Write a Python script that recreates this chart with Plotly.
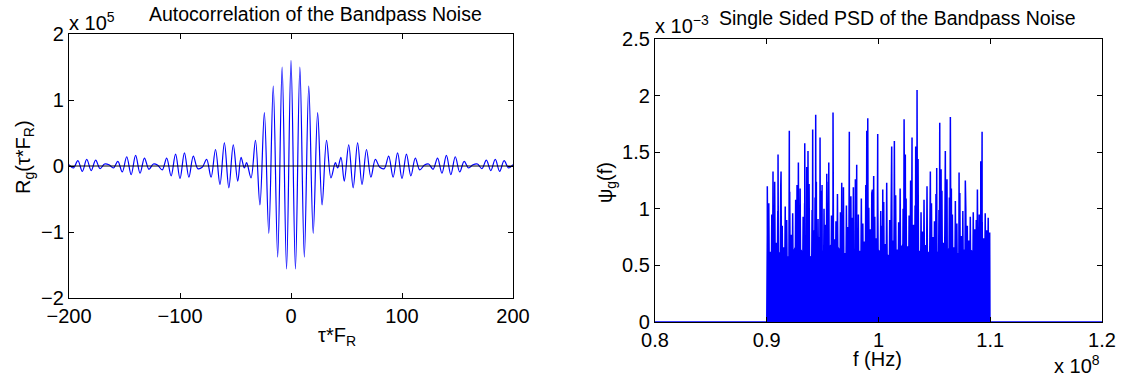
import numpy as np
import plotly.graph_objects as go

# ---------------- data ----------------
# Autocorrelation extrema, tau*F_R  and  R_g (units of 1e5)
tau = [-200, -196, -192, -188, -184, -180, -176, -172, -168, -164, -160, -156, -152,
       -148, -144, -140, -136, -132, -128, -124, -120, -116, -112, -108, -104, -100,
       -96, -92, -88, -84, -80, -76, -72, -68, -64, -60, -56, -52, -48, -45, -42, -40,
       -36, -32, -28, -24, -20, -16, -12, -8, -4,
       0, 4, 8, 12, 16, 20, 24, 28, 32, 36, 40, 42, 45, 48, 52, 56, 60, 64, 68, 72, 76,
       80, 84, 88, 92, 96, 100, 104, 108, 112, 116, 120, 124, 128, 132, 136, 140, 144,
       148, 152, 156, 160, 164, 168, 172, 176, 180, 184, 188, 192, 196, 200]
r_g = [0.02, -0.03, 0.08, -0.08, 0.10, -0.07, 0.09, -0.04, 0.03, 0.02, -0.03, 0.07, -0.09,
       0.14, -0.13, 0.16, -0.11, 0.12, -0.05, 0.03, 0.01, -0.06, 0.12, -0.15, 0.18, -0.19,
       0.20, -0.17, 0.15, -0.04, -0.02, 0.10, -0.17, 0.25, -0.28, 0.35, -0.33, 0.32, -0.23,
       0.13, -0.03, 0.05, -0.18, 0.39, -0.59, 0.81, -1.02, 1.21, -1.38, 1.50, -1.56,
       1.60, -1.56, 1.50, -1.38, 1.21, -1.02, 0.81, -0.59, 0.39, -0.18, 0.05, -0.03, 0.13,
       -0.23, 0.32, -0.33, 0.35, -0.28, 0.25, -0.17, 0.10, -0.02, -0.04, 0.15, -0.17, 0.20,
       -0.19, 0.18, -0.15, 0.12, -0.06, 0.01, 0.03, -0.05, 0.12, -0.11, 0.16, -0.13, 0.14,
       -0.09, 0.07, -0.03, 0.02, 0.03, -0.04, 0.09, -0.07, 0.10, -0.08, 0.08, -0.03, 0.02]

# PSD: tall spikes (f in 1e8 Hz, psi in 1e-3)
spike_f = [0.9005, 0.9056, 0.9071, 0.9101, 0.9128, 0.9202, 0.9271, 0.9283, 0.9340, 0.9358,
           0.9369, 0.9411, 0.9438, 0.9444, 0.9477, 0.9495, 0.9537, 0.9555, 0.9593, 0.9671,
           0.9739, 0.9775, 0.9805, 0.9895, 0.9904, 0.9945, 0.9957, 0.9993, 1.0038, 1.0118,
           1.0142, 1.0229, 1.0240, 1.0300, 1.0333, 1.0345, 1.0354, 1.0464, 1.0521, 1.0548,
           1.0560, 1.0598, 1.0613, 1.0643, 1.0652, 1.0721, 1.0777, 1.0885, 1.0915, 1.0927]
spike_h = [1.20, 1.33, 1.24, 1.48, 1.33, 1.69, 1.21, 1.41, 1.58, 1.37,
           1.51, 1.70, 1.83, 1.24, 1.63, 1.21, 1.31, 1.41, 1.85, 1.23,
           1.68, 1.19, 1.39, 1.69, 1.80, 1.17, 1.29, 1.66, 1.17, 1.55,
           1.60, 1.79, 1.48, 1.63, 1.55, 2.05, 1.44, 1.33, 1.36, 1.76,
           1.35, 1.51, 1.26, 1.81, 1.18, 1.32, 1.25, 1.17, 1.42, 1.68]
# PSD: the dense band of lower lines, evenly spaced across the pass band
band_h = [0.78, 1.05, 0.62, 0.95, 0.80, 1.12, 0.70, 0.98, 0.55, 1.20, 0.85, 0.66, 1.02, 0.90, 0.58, 1.15, 0.77, 0.96, 0.64, 1.08,
          0.88, 0.72, 1.18, 0.60, 0.93, 1.05, 0.69, 0.83, 1.22, 0.57, 0.99, 0.81, 1.10, 0.67, 0.91, 0.75, 1.16, 0.62, 1.00, 0.86,
          0.70, 1.24, 0.59, 0.94, 1.07, 0.73, 0.89, 1.13, 0.65, 0.97, 0.79, 1.19, 0.61, 1.03, 0.84, 0.68, 1.11, 0.92, 0.56, 1.26,
          0.76, 0.95, 0.63, 1.09, 0.87, 0.71, 1.21, 0.58, 1.01, 0.82, 1.14, 0.66, 0.93, 0.74, 1.17, 0.60, 0.98, 0.85, 1.06, 0.69,
          1.23, 0.57, 0.90, 1.04, 0.72, 0.96, 1.12, 0.64, 0.88, 1.18, 0.59, 1.00, 0.78, 1.09, 0.67, 0.94, 1.25, 0.61, 0.86, 1.03,
          0.73, 1.15, 0.63, 0.97, 0.80, 1.08, 0.68, 1.20, 0.55, 0.92, 1.05, 0.75, 0.89, 1.13, 0.62, 0.99, 0.83, 1.16, 0.70, 0.91,
          1.02, 0.58, 1.10, 0.79, 0.95, 0.66, 1.07, 0.87, 0.61, 1.14, 0.76, 0.98, 0.64, 1.01, 0.85, 0.72, 0.93, 0.60, 0.97, 0.82,
          0.90, 0.68, 0.95, 0.78, 0.88, 0.74, 0.96, 0.81, 0.92, 0.79]
# PSD: height of the solid blue floor of the band, evenly spaced across the pass band
floor_h = [0.58, 0.64, 0.55, 0.68, 0.60, 0.56, 0.66, 0.70, 0.59, 0.63, 0.57, 0.67,
           0.61, 0.58, 0.69, 0.62, 0.56, 0.65, 0.60, 0.67, 0.57, 0.64, 0.60, 0.62]
band_lo, band_hi = 0.9005, 1.0995
f_lo, f_hi = 0.8, 1.2

x_ticks_left = [-200, -100, 0, 100, 200]
y_ticks_left = [-2, -1, 0, 1, 2]
x_ticks_right = [0.8, 0.9, 1.0, 1.1, 1.2]
x_ticktext_right = ["0.8", "0.9", "1", "1.1", "1.2"]
y_ticks_right = [0, 0.5, 1.0, 1.5, 2.0, 2.5]
y_ticktext_right = ["0", "0.5", "1", "1.5", "2", "2.5"]

# ---------------- build PSD line (each line goes up to its value and back down) --------------
band_f = np.linspace(band_lo, band_hi, len(band_h))
tops = sorted(list(zip(band_f, band_h)) + list(zip(spike_f, spike_h)))
psd_x = [f_lo, 0.9]
psd_y = [0.0, 0.0]
for i, (f, h) in enumerate(tops):
    psd_x.append(f)
    psd_y.append(h)
    nxt = tops[i + 1][0] if i + 1 < len(tops) else 1.1
    psd_x.append((f + nxt) / 2)
    psd_y.append(0.0)
psd_x += [1.1, f_hi]
psd_y += [0.0, 0.0]

floor_f = list(np.linspace(band_lo, band_hi, len(floor_h)))
floor_x = [band_lo] + floor_f + [band_hi]
floor_y = [0.0] + floor_h + [0.0]

# ---------------- figure ----------------
W, H = 1125, 377
FONT = "Liberation Sans, Arial, Helvetica, sans-serif"
BLUE = "#0000ff"

fig = go.Figure()
fig.add_trace(go.Scatter(x=tau, y=r_g, mode="lines",
                         line=dict(color=BLUE, width=1.2, shape="spline", smoothing=1.0),
                         xaxis="x", yaxis="y", hoverinfo="skip", showlegend=False))
fig.add_trace(go.Scatter(x=[x_ticks_left[0], x_ticks_left[-1]], y=[0, 0], mode="lines",
                         line=dict(color="black", width=1),
                         xaxis="x", yaxis="y", hoverinfo="skip", showlegend=False))
fig.add_trace(go.Scatter(x=floor_x, y=floor_y, mode="lines", fill="toself",
                         fillcolor=BLUE, line=dict(color=BLUE, width=0),
                         xaxis="x2", yaxis="y2", hoverinfo="skip", showlegend=False))
fig.add_trace(go.Scatter(x=psd_x, y=psd_y, mode="lines",
                         line=dict(color=BLUE, width=1.5),
                         xaxis="x2", yaxis="y2", hoverinfo="skip", showlegend=False))


def px(xp):
    return xp / W


def py(yp):
    return 1 - yp / H


axis_common = dict(showline=True, linecolor="black", linewidth=1.3, mirror="ticks",
                   ticks="inside", ticklen=5, tickwidth=1, tickcolor="black",
                   showgrid=False, zeroline=False, automargin=False,
                   tickfont=dict(family=FONT, size=20, color="black"))

fig.update_layout(
    template="none",
    width=W, height=H, autosize=False,
    margin=dict(l=0, r=0, t=0, b=0, pad=0),
    paper_bgcolor="white", plot_bgcolor="white",
    showlegend=False,
    xaxis=dict(domain=[px(69), px(513)], range=[-200, 200], tickvals=x_ticks_left,
               anchor="y", **axis_common),
    yaxis=dict(domain=[py(298), py(34)], range=[-2, 2], tickvals=y_ticks_left,
               anchor="x", **axis_common),
    xaxis2=dict(domain=[px(655), px(1102)], range=[f_lo, f_hi], tickvals=x_ticks_right,
                ticktext=x_ticktext_right, anchor="y2", **axis_common),
    yaxis2=dict(domain=[py(322), py(39)], range=[0, 2.5], tickvals=y_ticks_right,
                ticktext=y_ticktext_right, anchor="x2", **axis_common),
)

ann = []


def add(text, x, y, size=20, xanchor="center", yanchor="middle", angle=0):
    ann.append(dict(text=text, x=px(x), y=py(y), xref="paper", yref="paper",
                    xanchor=xanchor, yanchor=yanchor, showarrow=False, textangle=angle,
                    font=dict(family=FONT, size=size, color="black")))


add("Autocorrelation of the Bandpass Noise", 315.5, 14, size=19.5)
add("Single Sided PSD of the Bandpass Noise", 897, 17.5, size=19.5)
add("x 10<sup>5</sup>", 67, 22, xanchor="left")
add("x 10<sup>\u22123</sup>", 653, 25, xanchor="left")
add("x 10<sup>8</sup>", 1052, 364, xanchor="left")
add("\u03c4*F<sub>R</sub>", 337, 336)
add("f (Hz)", 877.5, 359)
add("R<sub>g</sub>(\u03c4*F<sub>R</sub>)", 24, 157, angle=-90)
add("\u03c8<sub>g</sub>(f)", 606, 183, angle=-90)

fig.update_layout(annotations=ann)
fig.write_html("out.html")
